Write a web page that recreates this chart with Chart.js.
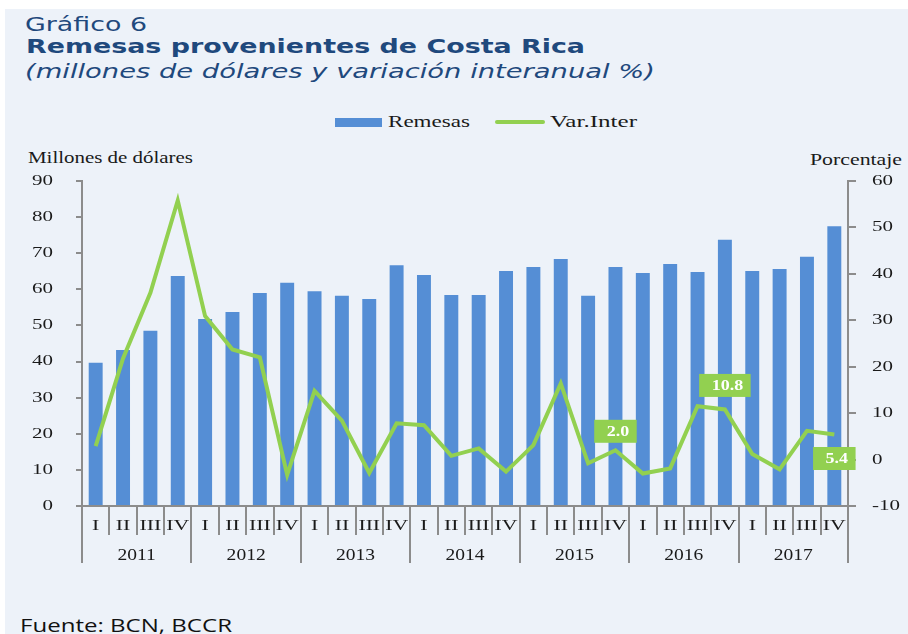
<!DOCTYPE html>
<html>
<head>
<meta charset="utf-8">
<script src="https://cdn.jsdelivr.net/npm/chart.js@4.4.1/dist/chart.umd.min.js"></script>
<style>
  body { margin: 0; width: 908px; height: 634px; overflow: hidden; position: relative; background: #fff; }
  #bg { position: absolute; left: 5px; top: 9px; right: 0; bottom: 0; background: #edf2f9; }
  #chart { position: absolute; left: 0; top: 0; }
  .t { position: absolute; white-space: nowrap; line-height: 1; transform-origin: 0 0; }
  .ttl { font-family: "DejaVu Sans", Verdana, sans-serif; color: #1f497d; }
  .serif { font-family: "Liberation Serif", "Times New Roman", serif; color: #1a1a1a; }
</style>
</head>
<body>
<div id="bg"></div>

<div class="t ttl" style="left:25px;top:15px;font-size:19px" data-w="122">Gráfico 6</div>
<div class="t ttl" style="left:26px;top:36px;font-size:20px;font-weight:bold" data-w="559">Remesas provenientes de Costa Rica</div>
<div class="t ttl" style="left:25px;top:61px;font-size:20px;font-style:italic" data-w="630">(millones de dólares y variación interanual %)</div>

<div style="position:absolute;left:335px;top:118px;width:47px;height:9px;background:#558ed5"></div>
<div class="t serif" style="left:388px;top:113px;font-size:17px" data-w="82">Remesas</div>
<div style="position:absolute;left:495px;top:120px;width:50px;height:4px;background:#92d050;border-radius:2px"></div>
<div class="t serif" style="left:550px;top:113px;font-size:17px" data-w="87">Var.Inter</div>

<div class="t serif" style="left:28px;top:150px;font-size:16px" data-w="165">Millones de dólares</div>
<div class="t serif" style="left:810px;top:152px;font-size:16px" data-w="92">Porcentaje</div>

<div class="t" style="left:20px;top:616px;font-size:19px;font-family:'Open Sans',sans-serif;color:#111" data-w="212">Fuente: BCN, BCCR</div>

<canvas id="chart" width="908" height="634"></canvas>

<script>
const years = ['2011', '2012', '2013', '2014', '2015', '2016', '2017']
const quarters = ['I', 'II', 'III', 'IV']

// millones de dolares, por trimestre
const remesas = [
  39.7, 43.2, 48.5, 63.7,
  51.8, 53.7, 59.0, 61.8,
  59.5, 58.2, 57.3, 66.7,
  64.0, 58.4, 58.4, 65.1,
  66.2, 68.4, 58.2, 66.2,
  64.5, 67.0, 64.8, 73.7,
  65.1, 65.6, 69.0, 77.5,
]

// variacion interanual %
const varInter = [
  2.9, 21.8, 35.9, 55.8,
  30.9, 23.7, 22.0, -3.3,
  14.8, 8.4, -2.9, 7.8,
  7.4, 0.8, 2.4, -2.6,
  3.1, 16.4, -0.8, 2.0,
  -3.0, -1.9, 11.5, 10.8,
  1.2, -2.1, 6.2, 5.4,
]

// puntos con etiqueta
const labelIdx = [19, 23, 27]
const labelDy = [-19, -24, 24]

const leftTicks = [0, 10, 20, 30, 40, 50, 60, 70, 80, 90]
const rightTicks = [-10, 0, 10, 20, 30, 40, 50, 60]

const cats = []
years.forEach((y) => quarters.forEach((q) => cats.push(q + ' ' + y)))

const axisColor = '#8c8c8c'
const green = '#92d050'
const blue = '#558ed5'

// ajustar ancho de los textos html
document.querySelectorAll('[data-w]').forEach((el) => {
  const nat = el.getBoundingClientRect().width
  el.style.transform = 'scaleX(' + (Number(el.dataset.w) / nat) + ')'
})

const stretchText = (ctx, txt, x, y, sx, align) => {
  ctx.save()
  ctx.translate(x, y)
  ctx.scale(sx, 1)
  ctx.textAlign = align
  ctx.fillText(txt, 0, 0)
  ctx.restore()
}

const decor = {
  id: 'decor',
  afterDraw(chart) {
    const ctx = chart.ctx
    const xs = chart.scales.x
    const yl = chart.scales.y
    const yr = chart.scales.y2
    const half = (xs.getPixelForValue(1) - xs.getPixelForValue(0)) / 2
    const bottom = chart.chartArea.bottom

    ctx.save()
    // separadores
    ctx.strokeStyle = axisColor
    ctx.lineWidth = 2
    for (let i = 0; i <= cats.length; i++) {
      const x = Math.round(xs.getPixelForValue(i) - half)
      const len = i % 4 === 0 ? 57 : 29
      ctx.beginPath()
      ctx.moveTo(x, bottom)
      ctx.lineTo(x, bottom + len)
      ctx.stroke()
    }

    // etiquetas de ejes
    ctx.fillStyle = '#1a1a1a'
    ctx.textBaseline = 'middle'
    ctx.font = '15px "Liberation Serif", serif'
    leftTicks.forEach((v) => stretchText(ctx, String(v), 53, yl.getPixelForValue(v), 1.4, 'right'))
    rightTicks.forEach((v) => stretchText(ctx, String(v), 872, yr.getPixelForValue(v), 1.4, 'left'))

    cats.forEach((c, i) => {
      stretchText(ctx, quarters[i % 4], xs.getPixelForValue(i), bottom + 20, 1.45, 'center')
    })
    ctx.font = '16px "Liberation Serif", serif'
    years.forEach((y, k) => {
      const x = (xs.getPixelForValue(k * 4) + xs.getPixelForValue(k * 4 + 3)) / 2
      stretchText(ctx, y, x, bottom + 50, 1.22, 'center')
    })

    // etiquetas de datos
    ctx.font = 'bold 15px "Liberation Serif", serif'
    labelIdx.forEach((idx, k) => {
      const txt = varInter[idx].toFixed(1)
      const px = xs.getPixelForValue(idx)
      const py = yr.getPixelForValue(varInter[idx]) + labelDy[k]
      const w = ctx.measureText(txt).width * 1.2 + 20
      ctx.fillStyle = green
      ctx.fillRect(px - w / 2, py - 11.5, w, 23)
      ctx.fillStyle = '#fff'
      stretchText(ctx, txt, px + 2.5, py + 1, 1.2, 'center')
    })
    ctx.restore()
  },
}

const myChart = new Chart('chart', {
  data: {
    labels: cats,
    datasets: [
      {
        type: 'line',
        label: 'Var.Inter',
        data: varInter,
        yAxisID: 'y2',
        borderColor: green,
        borderWidth: 4,
        pointRadius: 0,
        tension: 0,
        order: 0,
      },
      {
        type: 'bar',
        label: 'Remesas',
        data: remesas,
        yAxisID: 'y',
        backgroundColor: blue,
        barPercentage: 0.51,
        categoryPercentage: 1,
        order: 1,
      },
    ],
  },
  options: {
    responsive: false,
    animation: false,
    layout: { padding: { top: 181, left: 0, right: 0, bottom: 0 } },
    plugins: { legend: { display: false }, tooltip: { enabled: false } },
    scales: {
      x: {
        ticks: { display: false },
        grid: { display: false },
        border: { display: true, color: axisColor, width: 2 },
        afterFit: (s) => { s.height = 128 },
      },
      y: {
        position: 'left',
        min: 0,
        max: 90,
        ticks: { display: false, stepSize: 10 },
        grid: { drawOnChartArea: false, color: axisColor, lineWidth: 2, tickLength: 6 },
        border: { color: axisColor, width: 2 },
        afterFit: (s) => { s.width = 82 },
      },
      y2: {
        position: 'right',
        min: -10,
        max: 60,
        ticks: { display: false, stepSize: 10 },
        grid: { drawOnChartArea: false, color: axisColor, lineWidth: 2, tickLength: 8 },
        border: { color: axisColor, width: 2 },
        afterFit: (s) => { s.width = 60 },
      },
    },
  },
  plugins: [decor],
})
</script>
</body>
</html>
